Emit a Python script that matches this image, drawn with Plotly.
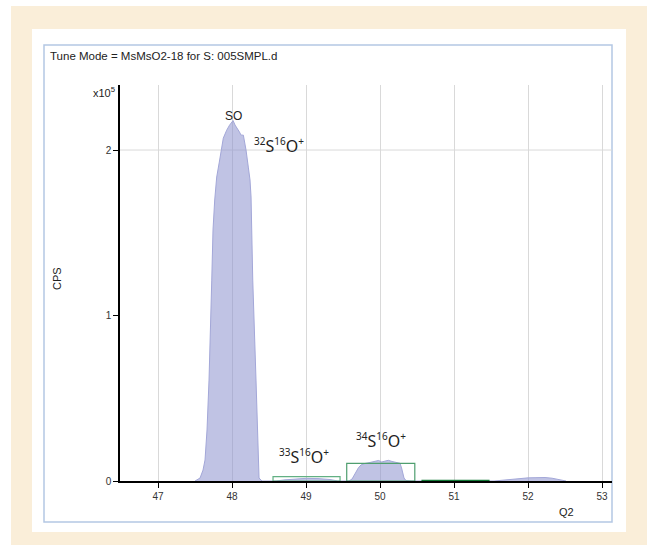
import plotly.graph_objects as go

# ---------------- data ----------------
# Q2 scan (m/z) and intensity (CPS)
q2 = [47.50, 47.568, 47.608, 47.635, 47.662, 47.689, 47.726, 47.743, 47.766, 47.793,
      47.828, 47.882, 47.928, 47.966, 48.014, 48.041, 48.099, 48.122, 48.153, 48.189,
      48.220, 48.243, 48.257, 48.280, 48.324, 48.355, 48.365, 48.405,
      48.595, 48.716, 48.851, 49.000, 49.162, 49.324, 49.430,
      49.581, 49.622, 49.676, 49.707, 49.743, 49.797, 49.865, 49.932, 49.980, 50.023,
      50.068, 50.112, 50.162, 50.226, 50.270, 50.291, 50.307, 50.324, 50.351, 50.420,
      51.541, 51.622, 51.757, 51.892, 52.000, 52.095, 52.230, 52.324, 52.405, 52.514]
cps = [0, 1800, 6600, 12700, 30800, 61000, 121400, 151700, 169800, 183700,
       192700, 207200, 212000, 215000, 217800, 215100, 211000, 209000, 209000, 200000,
       189700, 181900, 171600, 121400, 61000, 12700, 1800, 0,
       0, 700, 1300, 1600, 1450, 900, 0,
       0, 1200, 5400, 7900, 9700, 10600, 11200, 12100, 12400, 11500,
       12100, 12500, 11800, 11300, 10700, 7900, 4700, 1800, 300, 0,
       0, 400, 1000, 1600, 1900, 2000, 2100, 1700, 900, 0]

# integration windows (Q2 start, Q2 end, height in CPS)
win_lo = [48.554, 49.550, 50.570]
win_hi = [49.460, 50.470, 51.470]
win_h = [2600, 10700, 250]

x_ticks = [47, 48, 49, 50, 51, 52, 53]
y_ticks = [0, 100000, 200000]
y_tick_text = ["0", "1", "2"]
x_range = [46.486, 53.135]
y_range = [0, 239300]

title_text = "Tune Mode = MsMsO2-18 for S: 005SMPL.d"
peak_label = "SO"
ion_masses = [("32", "16"), ("33", "16"), ("34", "16")]

# ---------------- layout helpers ----------------
W, H = 647, 545
L, R, T, B = 120, 35, 85, 64
PW, PH = W - L - R, H - T - B


def px(xp):
    return (xp - L) / PW


def py(yp):
    return (H - B - yp) / PH


def ion_text(ms, mo):
    s = '<span style="font-size:10px">'
    return (f"<sup>{s}{ms}</span></sup>S<sup>{s}{mo}</span></sup>O"
            f"<sup>{s}+</span></sup>")


NARROW = "Liberation Sans Narrow, Liberation Sans, Arial, sans-serif"
WIDE = "Noto Sans, Liberation Sans, sans-serif"

fig = go.Figure()

fig.add_trace(go.Scatter(
    x=q2, y=cps, mode="lines", fill="tozeroy",
    line=dict(color="#a3a7d8", width=1),
    fillcolor="rgba(140,145,205,0.55)",
    hoverinfo="skip", showlegend=False,
))

win_colors = ["#62b083", "#4f9f6f", "#127a36"]
win_widths = [1.2, 1.2, 1.5]
for lo, hi, h, c, w in zip(win_lo, win_hi, win_h, win_colors, win_widths):
    fig.add_trace(go.Scatter(
        x=[lo, lo, hi, hi, lo], y=[0, h, h, 0, 0], mode="lines",
        line=dict(color=c, width=w), hoverinfo="skip", showlegend=False,
    ))

shapes = [
    dict(type="rect", xref="paper", yref="paper", x0=px(11), x1=px(648), y0=py(6), y1=py(546),
         fillcolor="#faeed9", line=dict(width=0), layer="below"),
    dict(type="rect", xref="paper", yref="paper", x0=px(32), x1=px(626), y0=py(29), y1=py(532),
         fillcolor="white", line=dict(width=0), layer="below"),
    dict(type="rect", xref="paper", yref="paper", x0=px(44), x1=px(612), y0=py(45), y1=py(522),
         fillcolor="white", line=dict(color="#b4c7e4", width=1.5), layer="below"),
    dict(type="line", xref="paper", yref="y", x0=0, x1=1, y0=y_ticks[2], y1=y_ticks[2],
         line=dict(color="#d9d9d9", width=1), layer="below"),
]

annotations = [
    dict(text=title_text, x=px(48), y=py(56), xref="paper", yref="paper",
         xanchor="left", yanchor="middle", showarrow=False,
         font=dict(family=NARROW, size=11.5, color="#222")),
    dict(text="x10<sup>5</sup>", x=px(117), y=py(92), xref="paper", yref="paper",
         xanchor="right", yanchor="middle", showarrow=False,
         font=dict(family=NARROW, size=11, color="#222")),
    dict(text="CPS", x=px(57), y=py(279), xref="paper", yref="paper",
         xanchor="center", yanchor="middle", showarrow=False, textangle=-90,
         font=dict(family=NARROW, size=11, color="#222")),
    dict(text="Q2", x=px(566), y=py(512), xref="paper", yref="paper",
         xanchor="center", yanchor="middle", showarrow=False,
         font=dict(family=NARROW, size=11, color="#222")),
    dict(text=peak_label, x=px(233), y=py(116), xref="paper", yref="paper",
         xanchor="center", yanchor="middle", showarrow=False,
         font=dict(family=NARROW, size=12, color="#222")),
]
ion_pos = [(279, 145), (304, 456), (381, 440)]
for (ms, mo), (ax, ay) in zip(ion_masses, ion_pos):
    annotations.append(dict(
        text=ion_text(ms, mo), x=px(ax), y=py(ay), xref="paper", yref="paper",
        xanchor="center", yanchor="middle", showarrow=False,
        font=dict(family=WIDE, size=16, color="#222")))

fig.update_layout(
    template="none",
    width=W, height=H,
    margin=dict(l=L, r=R, t=T, b=B, pad=0),
    paper_bgcolor="white",
    plot_bgcolor="rgba(0,0,0,0)",
    shapes=shapes,
    annotations=annotations,
    showlegend=False,
    xaxis=dict(
        range=x_range, tickvals=x_ticks, ticktext=[str(v) for v in x_ticks],
        showgrid=True, gridcolor="#d9d9d9", gridwidth=1,
        showline=True, linecolor="black", linewidth=1.5,
        ticks="outside", ticklen=5, tickcolor="black", tickwidth=1,
        tickfont=dict(family=NARROW, size=10, color="#333"),
        zeroline=False, fixedrange=True,
    ),
    yaxis=dict(
        range=y_range, tickvals=y_ticks, ticktext=y_tick_text,
        showgrid=False,
        showline=True, linecolor="black", linewidth=1.5,
        ticks="outside", ticklen=5, tickcolor="black", tickwidth=1,
        tickfont=dict(family=NARROW, size=10, color="#333"),
        zeroline=False, fixedrange=True,
    ),
)

fig.write_html("out.html")
